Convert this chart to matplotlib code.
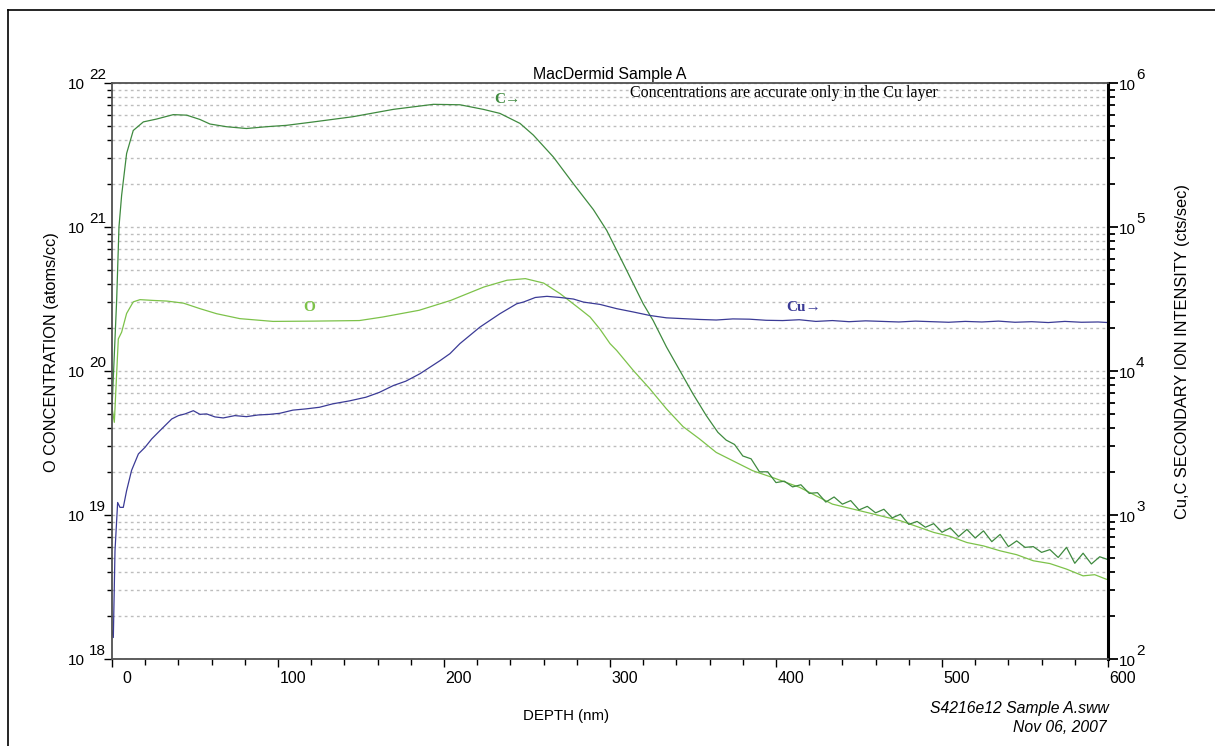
import math
import matplotlib.pyplot as plt
from matplotlib.lines import Line2D
from matplotlib.ticker import MultipleLocator, LogLocator, NullFormatter
import matplotlib.transforms as mtransforms

plt.rcParams['lines.scale_dashes'] = False

# depth profile values
C_DEPTH = [0, 2.8, 4.2, 5.8, 8.8, 12.8, 18.9, 26.9, 36.9, 45, 53, 59, 69, 81, 93, 105,
           121, 145, 169.5, 193.6, 209.6, 223.7, 233.7, 245.8, 253.8, 265.8, 277.9,
           290, 298, 310, 320, 326, 334, 342, 350, 358, 365,
           370, 375, 380, 385, 390, 395, 400, 405, 410, 415, 420, 425, 430, 435,
           440, 445, 450, 455, 460, 465, 470, 475, 480, 485, 490, 495, 500, 505,
           510, 515, 520, 525, 530, 535, 540, 545, 550, 555, 560, 565, 570, 575,
           580, 585, 590, 595, 600]
C_COUNTS = [5500, 30900, 1.0e5, 1.66e5, 3.24e5, 4.68e5, 5.37e5, 5.62e5, 6.03e5, 5.98e5,
            5.58e5, 5.19e5, 4.97e5, 4.83e5, 4.97e5, 5.08e5, 5.36e5, 5.83e5, 6.56e5,
            7.11e5, 7.06e5, 6.56e5, 6.15e5, 5.24e5, 4.35e5, 3.07e5, 2.0e5, 1.32e5,
            9.48e4, 5.01e4, 2.93e4, 2.24e4, 1.47e4, 1.01e4, 6930, 4900, 3750,
            3311, 3090, 2570, 2455, 1995, 1995, 1679, 1718, 1567, 1622, 1413, 1429,
            1230, 1334, 1189, 1259, 1084, 1148, 1035, 1096, 955, 1012, 861, 902,
            822, 871, 759, 813, 708, 794, 692, 776, 653, 733, 603, 661, 596, 603,
            550, 575, 507, 596, 462, 543, 457, 513, 490]

O_DEPTH = [0, 1.4, 3.8, 5.8, 8.8, 12.8, 16.9, 25, 33, 43, 53, 63, 77, 97, 121, 149,
           163, 185, 204, 224, 238, 249, 260, 270, 282, 288, 294, 300, 304, 314,
           324, 334, 344, 354, 364, 374, 386, 398, 414, 434, 455, 475, 495, 505,
           515, 525, 535, 545, 555, 565, 575, 585, 592, 599]
O_CONC = [5.6e19, 4.4e19, 1.67e20, 1.86e20, 2.51e20, 3.02e20, 3.13e20, 3.09e20,
          3.06e20, 2.96e20, 2.71e20, 2.50e20, 2.31e20, 2.21e20, 2.22e20, 2.24e20,
          2.37e20, 2.64e20, 3.09e20, 3.83e20, 4.27e20, 4.38e20, 4.08e20, 3.44e20,
          2.69e20, 2.37e20, 1.95e20, 1.55e20, 1.39e20, 1.01e20, 7.52e19, 5.46e19,
          4.11e19, 3.37e19, 2.72e19, 2.38e19, 2.03e19, 1.82e19, 1.56e19, 1.19e19,
          1.04e19, 9.12e18, 7.57e18, 7.1e18, 6.44e18, 6.1e18, 5.64e18, 5.3e18,
          4.81e18, 4.6e18, 4.21e18, 3.78e18, 3.85e18, 3.58e18]

CU_DEPTH = [0, 0.8, 1.8, 3.4, 4.8, 6.8, 8.8, 11.8, 15.9, 19.9, 23.9, 28.9, 36, 40,
            44, 49, 53, 57, 62, 67, 74, 81, 88, 95, 101, 109, 117, 125, 133, 143,
            153, 161, 169.5, 177, 185.5, 197.6, 203.6, 209.6, 221.7, 233.7, 243.8,
            247.8, 255, 262, 270, 278, 284, 294, 304, 314, 324, 334, 344, 354, 364,
            374, 384, 394, 404, 414, 424, 434, 444, 454, 464, 474, 484, 494, 504,
            514, 524, 534, 544, 554, 564, 574, 584, 594, 600]
CU_COUNTS = [158, 141, 562, 1222, 1130, 1130, 1476, 2042, 2655, 2951, 3373, 3855,
             4645, 4900, 5035, 5300, 5000, 5035, 4800, 4721, 4900, 4819, 4950, 5000,
             5082, 5350, 5458, 5600, 5916, 6200, 6577, 7100, 7925, 8500, 9572,
             1.18e4, 1.32e4, 1.55e4, 2.02e4, 2.50e4, 2.93e4, 3.01e4, 3.24e4, 3.30e4,
             3.24e4, 3.16e4, 3.01e4, 2.90e4, 2.71e4, 2.57e4, 2.43e4, 2.34e4, 2.31e4,
             2.28e4, 2.26e4, 2.30e4, 2.29e4, 2.25e4, 2.24e4, 2.27e4, 2.21e4, 2.24e4,
             2.20e4, 2.23e4, 2.21e4, 2.19e4, 2.22e4, 2.20e4, 2.18e4, 2.21e4, 2.19e4,
             2.22e4, 2.18e4, 2.20e4, 2.17e4, 2.21e4, 2.18e4, 2.19e4, 2.17e4]

C_COLOR = '#3f8a3f'
O_COLOR = '#7dc24a'
CU_COLOR = '#3b3b96'
SANS = ['Liberation Sans', 'DejaVu Sans']
SERIF = ['Liberation Serif', 'DejaVu Serif']


def decade_labels(ax, side):
    # "10" with a large raised exponent, as the instrument software draws them
    lo, hi = ax.get_ylim()
    if side == 'left':
        x, base_off, exp_off, ha = 0, (-27, -2), (-23, 8), 'right'
    else:
        x, base_off, exp_off, ha = 1, (11, -3), (28, 8), 'left'
    for k in range(int(round(math.log10(lo))), int(round(math.log10(hi))) + 1):
        ax.annotate('10', xy=(x, 10.0 ** k), xycoords=('axes fraction', 'data'),
                    xytext=base_off, textcoords='offset pixels', ha=ha,
                    va='center', fontsize=11, family=SANS, annotation_clip=False)
        ax.annotate(str(k), xy=(x, 10.0 ** k), xycoords=('axes fraction', 'data'),
                    xytext=exp_off, textcoords='offset pixels', ha='left',
                    va='center', fontsize=11, family=SANS, annotation_clip=False)


def main():
    fig = plt.figure(figsize=(12.15, 7.46), dpi=100)
    ax = fig.add_axes([112 / 1215, 1 - 659 / 746, 996 / 1215, 576 / 746])
    ax2 = ax.twinx()

    ax.set_xlim(0, 600)
    ax.set_yscale('log')
    ax.set_ylim(1e18, 1e22)
    ax2.set_yscale('log')
    ax2.set_ylim(1e2, 1e6)

    # horizontal dotted grid at every decade sub-division
    for a in (ax, ax2):
        a.yaxis.set_major_locator(LogLocator(base=10, numticks=10))
        a.yaxis.set_minor_locator(LogLocator(base=10, subs=range(2, 10), numticks=50))
        a.yaxis.set_major_formatter(NullFormatter())
        a.yaxis.set_minor_formatter(NullFormatter())
    ax.grid(True, axis='y', which='both', color='#bdbdbd', linewidth=1.0,
            linestyle=(0, (2, 2.4)))
    ax.set_axisbelow(True)

    ax.plot(O_DEPTH, O_CONC, color=O_COLOR, lw=0.9)
    ax2.plot(C_DEPTH, C_COUNTS, color=C_COLOR, lw=0.9)
    ax2.plot(CU_DEPTH, CU_COUNTS, color=CU_COLOR, lw=0.9)

    ax.xaxis.set_major_locator(MultipleLocator(100))
    ax.xaxis.set_minor_locator(MultipleLocator(20))
    ax.tick_params(axis='x', which='major', direction='out', length=5.5, width=1,
                   pad=3, labelsize=11.5)
    ax.tick_params(axis='x', which='minor', direction='out', length=4, width=1)
    ax.tick_params(axis='y', which='major', direction='out', length=6, width=1)
    ax.tick_params(axis='y', which='minor', direction='out', length=3.5, width=1)
    ax2.tick_params(axis='y', which='major', direction='out', length=7, width=1.3)
    ax2.tick_params(axis='y', which='minor', direction='out', length=5, width=1.3)
    for lab in ax.get_xticklabels():
        lab.set_family(SANS)
    offset = mtransforms.ScaledTranslation(15 / 100, 0, fig.dpi_scale_trans)
    for t in ax.xaxis.get_major_ticks():
        t.label1.set_transform(t.label1.get_transform() + offset)

    for name in ('left', 'top', 'bottom'):
        ax2.spines[name].set_color('#505050')
        ax2.spines[name].set_linewidth(1.3)
    ax2.spines['right'].set_color('black')
    ax2.spines['right'].set_linewidth(2.2)
    for name in ax.spines:
        ax.spines[name].set_visible(False)

    decade_labels(ax, 'left')
    decade_labels(ax2, 'right')

    # curve labels
    ax2.text(230, 7.7e5, 'C\u2192', color=C_COLOR, fontsize=11,
             fontweight='bold', family=SERIF, va='center')
    ax.text(115, 2.75e20, 'O', color=O_COLOR, fontsize=11, fontweight='bold',
            family=SERIF, va='center')
    ax2.text(406, 2.75e4, 'Cu\u2192', color=CU_COLOR, fontsize=11, fontweight='bold',
             family=SERIF, va='center')
    ax.text(312, 8.5e21, 'Concentrations are accurate only in the Cu layer',
            fontsize=11.5, family=SERIF, va='center')

    fig.text(610 / 1215, 1 - 75 / 746, 'MacDermid Sample A', ha='center', va='center',
             fontsize=11.4, family=SANS)
    fig.text(566 / 1215, 1 - 716 / 746, 'DEPTH (nm)', ha='center', va='center',
             fontsize=10.8, family=SANS)
    fig.text(52 / 1215, 1 - 352 / 746, 'O CONCENTRATION (atoms/cc)', rotation=90,
             ha='center', va='center', fontsize=11.8, family=SANS)
    fig.text(1183 / 1215, 1 - 352 / 746, 'Cu,C SECONDARY ION INTENSITY (cts/sec)',
             rotation=90, ha='center', va='center', fontsize=11.8, family=SANS)
    fig.text(1109 / 1215, 1 - 709 / 746, 'S4216e12 Sample A.sww', ha='right',
             va='center', fontsize=11.3, style='italic', family=SANS)
    fig.text(1107 / 1215, 1 - 727 / 746, 'Nov 06, 2007', ha='right', va='center',
             fontsize=11.3, style='italic', family=SANS)

    # page frame
    fig.add_artist(Line2D([8 / 1215, 8 / 1215], [0, 1 - 10 / 746], color='black', lw=1.2))
    fig.add_artist(Line2D([8 / 1215, 1], [1 - 10 / 746, 1 - 10 / 746], color='black', lw=1.2))

    plt.savefig('out.png', dpi=100)
    plt.close()


if __name__ == '__main__':
    main()
